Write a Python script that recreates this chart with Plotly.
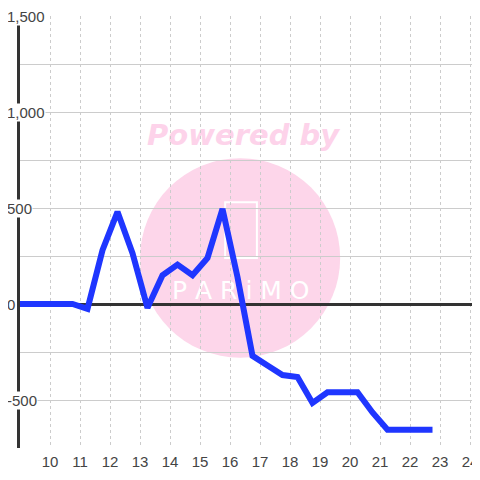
import plotly.graph_objects as go

# Data
x_vals = [8.75, 9.25, 9.75, 10.25, 10.75, 11.25, 11.75, 12.25, 12.75, 13.25,
          13.75, 14.25, 14.75, 15.25, 15.75, 16.25, 16.75, 17.25, 17.75, 18.25,
          18.75, 19.25, 19.75, 20.25, 20.75, 21.25, 21.75, 22.25, 22.75]
y_vals = [0, 0, 0, 0, 0, -25, 280, 480, 265, -20,
          150, 205, 150, 240, 495, 140, -270, -320, -370, -380,
          -515, -460, -460, -460, -565, -655, -655, -655, -655]

x_ticks = list(range(10, 25))
x_tick_text = [str(v) for v in x_ticks]
y_label_vals = [1500, 1000, 500, 0, -500]
y_label_text = ["1,500", "1,000", "500", "0", "-500"]

fig = go.Figure()
fig.add_trace(go.Scatter(
    x=x_vals, y=y_vals, mode="lines",
    line=dict(color="#1f36ff", width=6),
    hoverinfo="skip", showlegend=False,
))

annotations = []
for v, t in zip(y_label_vals, y_label_text):
    annotations.append(dict(
        x=-0.031, xref="paper", y=v, yref="y", text=t, showarrow=False,
        xanchor="left", yanchor="middle", bgcolor="#ffffff", borderpad=0,
        font=dict(family="Liberation Sans, Arial", size=15, color="#444444"),
    ))

shapes = [
    # watermark circle
    dict(type="circle", xref="paper", yref="paper", layer="below",
         x0=0.261, x1=0.696, y0=0.209, y1=0.671,
         fillcolor="#fdd6ea", line=dict(width=0)),
    # "Powered by"
    dict(type="rect", xref="paper", yref="paper", layer="below",
         x0=0.25, x1=0.72, y0=0.69, y1=0.77,
         fillcolor="rgba(0,0,0,0)", line=dict(width=0),
         label=dict(text="Powered by", textposition="middle center",
                    font=dict(family="DejaVu Sans", size=29, color="#fdd3ea",
                              weight="bold", style="italic"))),
    # logo outline
    dict(type="rect", xref="paper", yref="paper", layer="below",
         x0=0.446, x1=0.515, y0=0.44, y1=0.569,
         fillcolor="rgba(0,0,0,0)", line=dict(width=2, color="#ffffff")),
    # logo text
    dict(type="rect", xref="paper", yref="paper", layer="below",
         x0=0.25, x1=0.71, y0=0.33, y1=0.41,
         fillcolor="rgba(0,0,0,0)", line=dict(width=0),
         label=dict(text="P A R i M O", textposition="middle center",
                    font=dict(family="DejaVu Sans", size=25, color="#ffffff"))),
]

fig.update_layout(
    width=472, height=464,
    margin=dict(l=12, r=0, t=8, b=24),
    paper_bgcolor="#ffffff", plot_bgcolor="#ffffff",
    showlegend=False,
    annotations=annotations,
    shapes=shapes,
    xaxis=dict(
        range=[9, 9 + 460 / 30], tickvals=x_ticks, ticktext=x_tick_text,
        showgrid=True, gridcolor="#cccccc", gridwidth=1, griddash="3px,3px",
        zeroline=False, showline=False, ticks="", automargin=False,
        ticklabelstandoff=3, ticklabeloverflow="allow",
        tickfont=dict(family="Liberation Sans, Arial", size=15, color="#444444"),
    ),
    yaxis=dict(
        range=[-750, 1500], tick0=0, dtick=250,
        showgrid=True, gridcolor="#cccccc", gridwidth=1,
        zeroline=True, zerolinecolor="#333333", zerolinewidth=3,
        showticklabels=False, ticks="", automargin=False,
        showline=True, linecolor="#333333", linewidth=3, layer="below traces",
    ),
)

fig.write_html("out.html")
